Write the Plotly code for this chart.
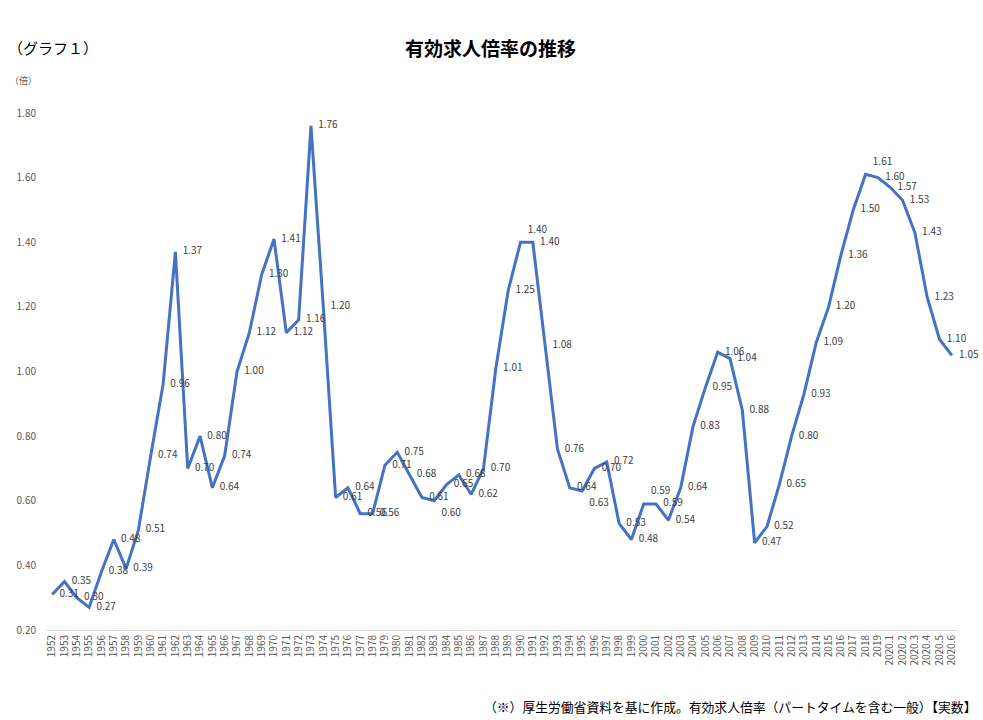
import plotly.graph_objects as go

years = [str(y) for y in range(1952, 2020)]
months = ["2020.1", "2020.2", "2020.3", "2020.4", "2020.5", "2020.6"]
categories = years + months

values = [0.31, 0.35, 0.30, 0.27, 0.38, 0.48, 0.39, 0.51, 0.74, 0.96,
          1.37, 0.70, 0.80, 0.64, 0.74, 1.00, 1.12, 1.30, 1.41, 1.12,
          1.16, 1.76, 1.20, 0.61, 0.64, 0.56, 0.56, 0.71, 0.75, 0.68,
          0.61, 0.60, 0.65, 0.68, 0.62, 0.70, 1.01, 1.25, 1.40, 1.40,
          1.08, 0.76, 0.64, 0.63, 0.70, 0.72, 0.53, 0.48, 0.59, 0.59,
          0.54, 0.64, 0.83, 0.95, 1.06, 1.04, 0.88, 0.47, 0.52, 0.65,
          0.80, 0.93, 1.09, 1.20, 1.36, 1.50, 1.61, 1.60, 1.57, 1.53,
          1.43, 1.23, 1.10, 1.05]

y_ticks = [0.2, 0.4, 0.6, 0.8, 1.0, 1.2, 1.4, 1.6, 1.8]
y_tick_text = ["0.20", "0.40", "0.60", "0.80", "1.00", "1.20", "1.40", "1.60", "1.80"]

title = "有効求人倍率の推移"
graph_label = "（グラフ１）"
unit_label = "（倍）"
footnote = "（※）厚生労働省資料を基に作成。有効求人倍率（パートタイムを含む一般）【実数】"

FONT = "Noto Sans CJK JP"

labels = [f"{v:.2f}" for v in values]

# label placement style (like the manually moved labels in the original)
label_pos_override = {
    "1990": "top right",
    "2018": "top right",
    "2000": "top right",
    "1983": "bottom right",
    "1995": "bottom right",
}
positions = [label_pos_override.get(c, "middle right") for c in categories]

# plot area in pixels
L, R, T, B = 46, 25, 113, 90
W = 983 - L - R
H = 720 - T - B

fig = go.Figure()
fig.add_trace(go.Scatter(
    x=categories, y=values,
    mode="lines+markers+text",
    line=dict(color="#4472C4", width=3),
    marker=dict(size=10, color="rgba(0,0,0,0)"),
    text=labels,
    textposition=positions,
    textfont=dict(family=FONT, size=10, color="#404040"),
    cliponaxis=False,
    hoverinfo="x+y",
))


def px_x(x):
    return (x - L) / W


def px_y(y):
    return (720 - B - y) / H


fig.update_layout(
    width=983, height=720,
    margin=dict(l=L, r=R, t=T, b=B),
    paper_bgcolor="white", plot_bgcolor="white",
    showlegend=False,
    font=dict(family=FONT),
    xaxis=dict(
        type="category",
        range=[-0.5, len(categories) - 0.5],
        tickangle=-90,
        tickfont=dict(family=FONT, size=10, color="#595959"),
        showgrid=False, zeroline=False,
        showline=True, linecolor="#D9D9D9", linewidth=1,
        ticks="",
    ),
    yaxis=dict(
        range=[0.2, 1.8],
        tickvals=y_ticks, ticktext=y_tick_text,
        tickfont=dict(family=FONT, size=10, color="#595959"),
        showgrid=False, zeroline=False, showline=False,
        ticks="", ticklabelstandoff=9,
    ),
    annotations=[
        dict(text=f"<b>{title}</b>", xref="paper", yref="paper",
             x=px_x(490), y=px_y(47),
             xanchor="center", yanchor="middle", showarrow=False,
             font=dict(family=FONT, size=19, color="#000000")),
        dict(text=graph_label, xref="paper", yref="paper",
             x=px_x(6), y=px_y(47),
             xanchor="left", yanchor="middle", showarrow=False,
             font=dict(family=FONT, size=15, color="#000000")),
        dict(text=unit_label, xref="paper", yref="paper",
             x=px_x(8), y=px_y(81),
             xanchor="left", yanchor="middle", showarrow=False,
             font=dict(family=FONT, size=9, color="#595959")),
        dict(text=footnote, xref="paper", yref="paper",
             x=px_x(978), y=px_y(706),
             xanchor="right", yanchor="middle", showarrow=False,
             font=dict(family=FONT, size=12.8, color="#000000")),
    ],
)

fig.write_html("out.html")
